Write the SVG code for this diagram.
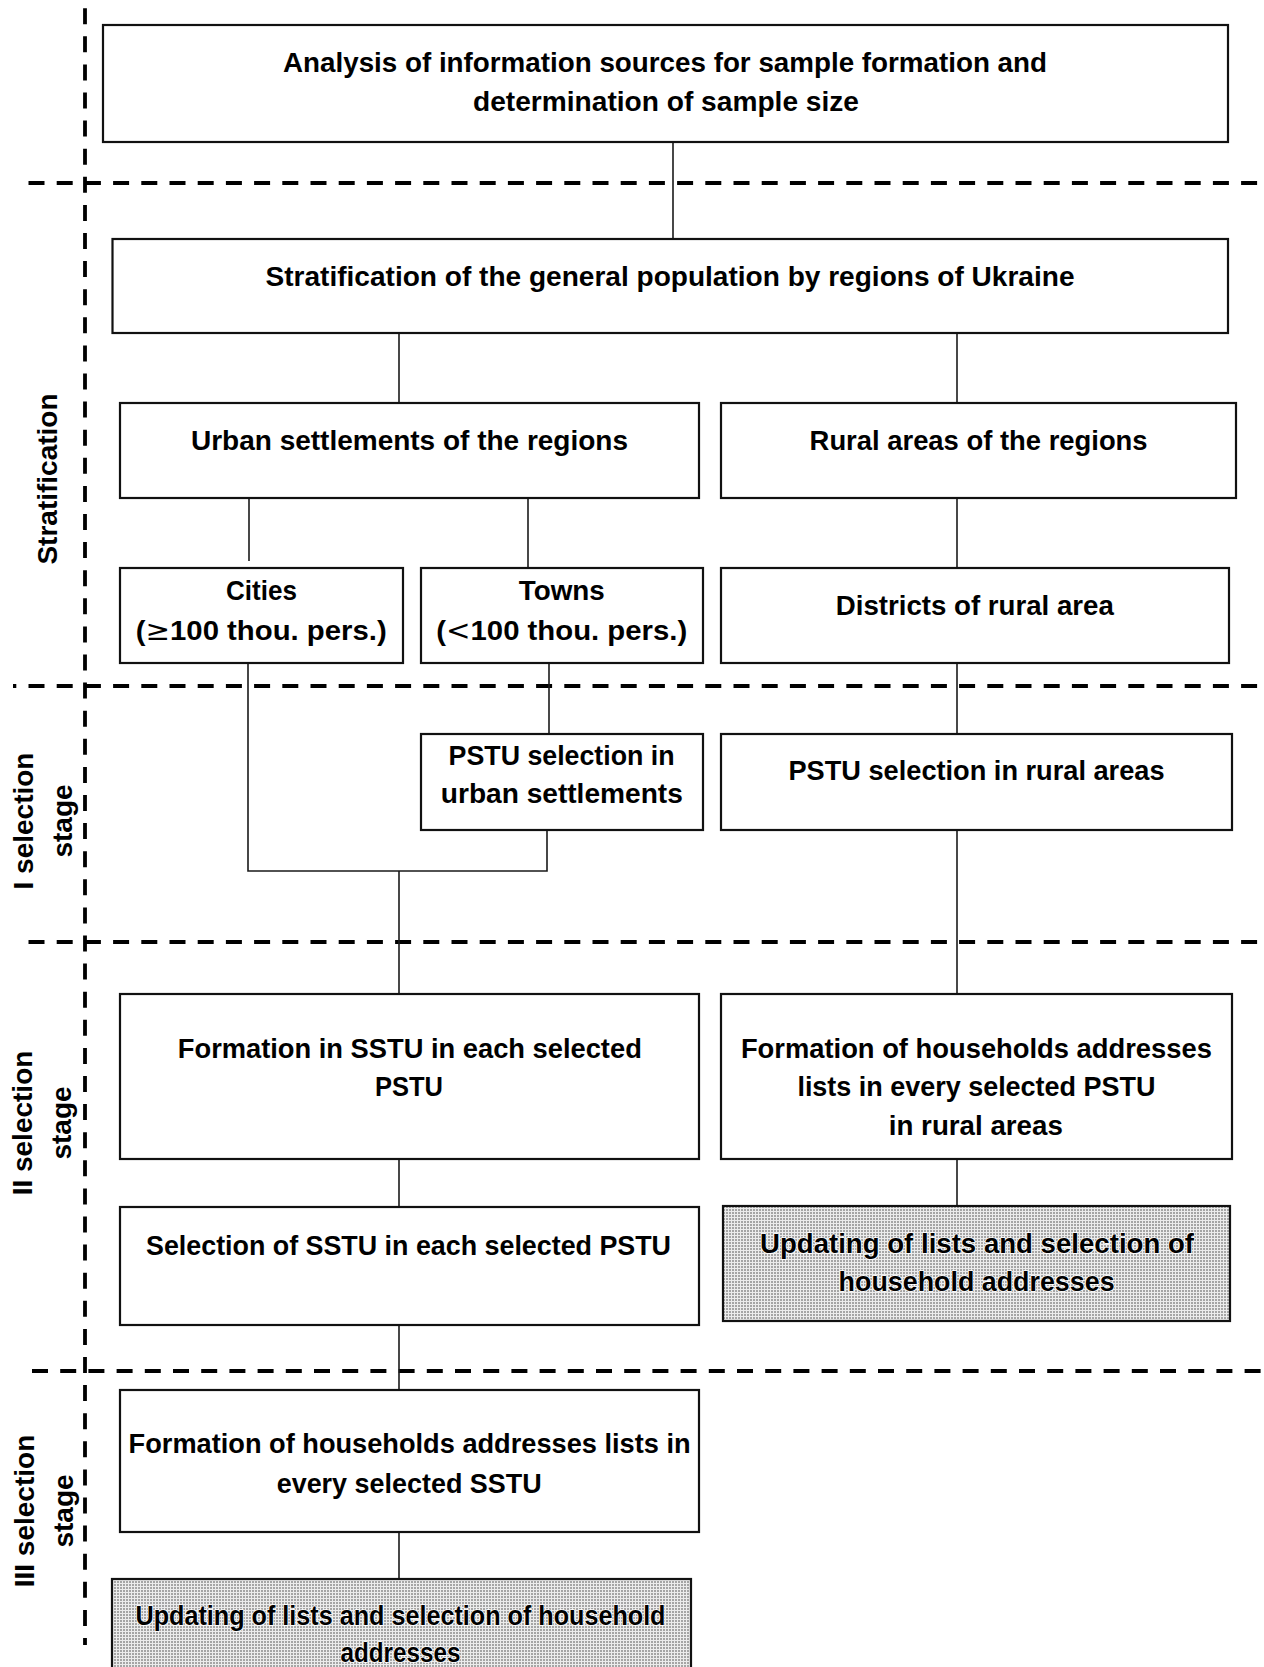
<svg xmlns="http://www.w3.org/2000/svg" width="1264" height="1667" viewBox="0 0 1264 1667">
<defs>
<pattern id="dots" width="3" height="3" patternUnits="userSpaceOnUse">
<rect width="3" height="3" fill="#ececec"/>
<circle cx="1" cy="1" r="0.8" fill="#4a4a4a"/>
</pattern>
</defs>
<style>
.box{fill:#fff;stroke:#111;stroke-width:2.2}
.dot{fill:url(#dots);stroke:#111;stroke-width:2.2}
.t{font-family:"Liberation Sans",Arial,sans-serif;font-weight:bold;font-size:28px;fill:#000;text-anchor:middle}
.halo{stroke:#fff;stroke-width:1.6;paint-order:stroke;stroke-linejoin:round}
.sym{font-weight:normal;font-family:"DejaVu Sans","Liberation Sans",sans-serif}
.con{stroke:#1a1a1a;stroke-width:1.6;fill:none}
.hd{stroke:#000;stroke-width:3.8;stroke-dasharray:16 12.2;fill:none}
.vd{stroke:#000;stroke-width:3.8;stroke-dasharray:16 12.1;fill:none}
</style>
<rect width="1264" height="1667" fill="#fff"/>

<g id="separators">
<line class="vd" x1="85" y1="8.2" x2="85" y2="1645"/>
<line class="hd" x1="28.5" y1="183" x2="1264" y2="183"/>
<line class="hd" x1="13" y1="686" x2="1264" y2="686" stroke-dashoffset="12.7"/>
<line class="hd" x1="28.5" y1="942" x2="1264" y2="942"/>
<line class="hd" x1="32" y1="1371" x2="1264" y2="1371"/>
</g>

<g id="stage-labels">
<text class="t" transform="translate(57,479) rotate(-90)">Stratification</text>
<text class="t" transform="translate(33,821) rotate(-90)">I selection</text>
<text class="t" transform="translate(72,821) rotate(-90)">stage</text>
<text class="t" transform="translate(32,1123) rotate(-90)">II selection</text>
<text class="t" transform="translate(71,1123) rotate(-90)">stage</text>
<text class="t" transform="translate(34,1511) rotate(-90)">III selection</text>
<text class="t" transform="translate(73,1511) rotate(-90)">stage</text>
</g>

<g id="connectors">
<line class="con" x1="673" y1="142" x2="673" y2="239"/>
<line class="con" x1="399" y1="333" x2="399" y2="403"/>
<line class="con" x1="957" y1="333" x2="957" y2="403"/>
<line class="con" x1="249" y1="498" x2="249" y2="561"/>
<line class="con" x1="528" y1="498" x2="528" y2="568"/>
<line class="con" x1="957" y1="498" x2="957" y2="568"/>
<polyline class="con" points="248,663 248,871 547,871 547,830"/>
<line class="con" x1="549" y1="663" x2="549" y2="734"/>
<line class="con" x1="399" y1="871" x2="399" y2="994"/>
<line class="con" x1="957" y1="663" x2="957" y2="734"/>
<line class="con" x1="957" y1="830" x2="957" y2="994"/>
<line class="con" x1="399" y1="1159" x2="399" y2="1207"/>
<line class="con" x1="957" y1="1159" x2="957" y2="1206"/>
<line class="con" x1="399" y1="1325" x2="399" y2="1390"/>
<line class="con" x1="399" y1="1532" x2="399" y2="1579"/>
</g>

<g id="analysis">
<rect class="box" x="103" y="25" width="1125" height="117"/>
<text class="t" x="665" y="72" textLength="764" lengthAdjust="spacingAndGlyphs">Analysis of information sources for sample formation and</text>
<text class="t" x="666" y="111" textLength="386" lengthAdjust="spacingAndGlyphs">determination of sample size</text>
</g>

<g id="stratification">
<rect class="box" x="112.5" y="239" width="1115.5" height="94"/>
<text class="t" x="670" y="286" textLength="809" lengthAdjust="spacingAndGlyphs">Stratification of the general population by regions of Ukraine</text>
</g>

<g id="urban">
<rect class="box" x="120" y="403" width="579" height="95"/>
<text class="t" x="409.5" y="450" textLength="437" lengthAdjust="spacingAndGlyphs">Urban settlements of the regions</text>
</g>

<g id="rural">
<rect class="box" x="721" y="403" width="515" height="95"/>
<text class="t" x="978.6" y="450" textLength="338" lengthAdjust="spacingAndGlyphs">Rural areas of the regions</text>
</g>

<g id="cities">
<rect class="box" x="120" y="568" width="283" height="95"/>
<text class="t" x="261.4" y="600" textLength="71" lengthAdjust="spacingAndGlyphs">Cities</text>
<text class="t" x="261.2" y="640" textLength="251" lengthAdjust="spacingAndGlyphs">(<tspan class="sym">≥</tspan>100 thou. pers.)</text>
</g>

<g id="towns">
<rect class="box" x="421" y="568" width="282" height="95"/>
<text class="t" x="561.8" y="600" textLength="86" lengthAdjust="spacingAndGlyphs">Towns</text>
<text class="t" x="561.7" y="640" textLength="251" lengthAdjust="spacingAndGlyphs">(<tspan class="sym">&lt;</tspan>100 thou. pers.)</text>
</g>

<g id="districts">
<rect class="box" x="721" y="568" width="508" height="95"/>
<text class="t" x="974.8" y="615" textLength="278" lengthAdjust="spacingAndGlyphs">Districts of rural area</text>
</g>

<g id="pstu-urban">
<rect class="box" x="421" y="734" width="282" height="96"/>
<text class="t" x="561.6" y="765" textLength="226" lengthAdjust="spacingAndGlyphs">PSTU selection in</text>
<text class="t" x="561.8" y="803" textLength="242" lengthAdjust="spacingAndGlyphs">urban settlements</text>
</g>

<g id="pstu-rural">
<rect class="box" x="721" y="734" width="511" height="96"/>
<text class="t" x="976.5" y="780" textLength="376" lengthAdjust="spacingAndGlyphs">PSTU selection in rural areas</text>
</g>

<g id="formation-sstu">
<rect class="box" x="120" y="994" width="579" height="165"/>
<text class="t" x="409.8" y="1058" textLength="464" lengthAdjust="spacingAndGlyphs">Formation in SSTU in each selected</text>
<text class="t" x="409" y="1096" textLength="68" lengthAdjust="spacingAndGlyphs">PSTU</text>
</g>

<g id="formation-rural">
<rect class="box" x="721" y="994" width="511" height="165"/>
<text class="t" x="976.4" y="1058" textLength="471" lengthAdjust="spacingAndGlyphs">Formation of households addresses</text>
<text class="t" x="976.4" y="1096" textLength="358" lengthAdjust="spacingAndGlyphs">lists in every selected PSTU</text>
<text class="t" x="975.8" y="1135" textLength="174" lengthAdjust="spacingAndGlyphs">in rural areas</text>
</g>

<g id="selection-sstu">
<rect class="box" x="120" y="1207" width="579" height="118"/>
<text class="t" x="408.5" y="1255" textLength="525" lengthAdjust="spacingAndGlyphs">Selection of SSTU in each selected PSTU</text>
</g>

<g id="updating-rural">
<rect class="dot" x="723" y="1206" width="507" height="115"/>
<text class="t halo" x="977" y="1253" textLength="434" lengthAdjust="spacingAndGlyphs">Updating of lists and selection of</text>
<text class="t halo" x="976.6" y="1291" textLength="276" lengthAdjust="spacingAndGlyphs">household addresses</text>
</g>

<g id="formation-households-sstu">
<rect class="box" x="120" y="1390" width="579" height="142"/>
<text class="t" x="409.6" y="1453" textLength="562" lengthAdjust="spacingAndGlyphs">Formation of households addresses lists in</text>
<text class="t" x="409.2" y="1493" textLength="265" lengthAdjust="spacingAndGlyphs">every selected SSTU</text>
</g>

<g id="updating-urban">
<rect class="dot" x="112" y="1579" width="579" height="100"/>
<text class="t halo" x="400.5" y="1625" textLength="530" lengthAdjust="spacingAndGlyphs">Updating of lists and selection of household</text>
<text class="t halo" x="400.5" y="1662" textLength="120" lengthAdjust="spacingAndGlyphs">addresses</text>
</g>
</svg>
